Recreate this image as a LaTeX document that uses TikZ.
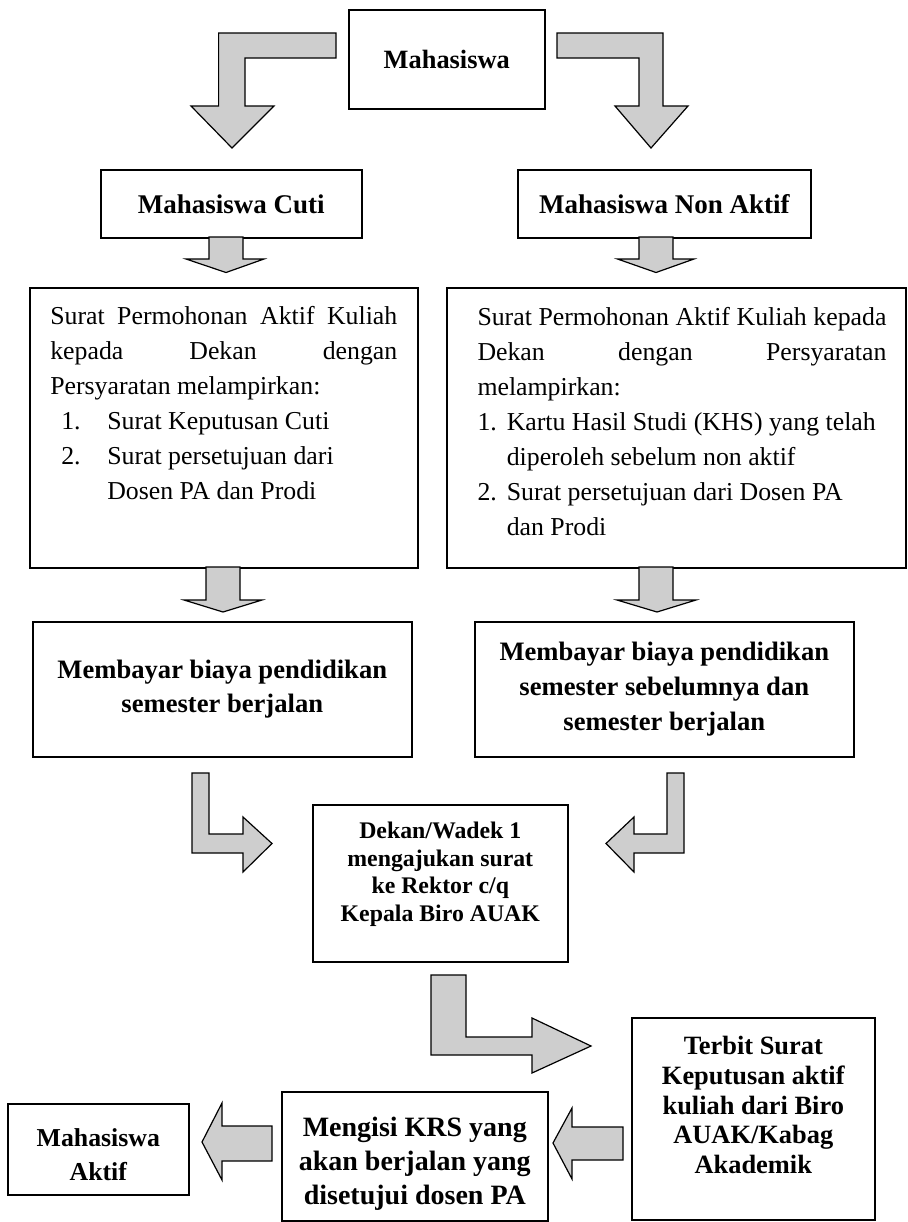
\documentclass[tikz,border=0pt]{standalone}
\usepackage{fontspec}
\setmainfont{Liberation Serif}

\definecolor{abu}{RGB}{206,206,206}
\def\pxscale{0.5pt}
\newcommand{\isi}{\normalfont\fontsize{12.9pt}{17.5pt}\selectfont}
\newcommand{\tebal}{\fontsize{13.2pt}{17pt}\selectfont\bfseries}

\begin{document}
\begin{tikzpicture}[x=\pxscale, y=-\pxscale,
    kotak/.style={draw, line width=0.8pt, anchor=north west, inner sep=0pt, align=center, font=\tebal},
    blok/.style={draw, fill=abu, line width=0.6pt, line join=miter}]
  \useasboundingbox (0,0) rectangle (907,1222);

  % kotak-kotak
  \node[kotak, minimum width=98pt, minimum height=49.5pt] (mhs) at (348,9) {Mahasiswa};
  \node[kotak, minimum width=130.5pt, minimum height=34pt, font=\fontsize{13.5pt}{17pt}\selectfont\bfseries] (cuti) at (100,169) {Mahasiswa Cuti};
  \node[kotak, minimum width=146.5pt, minimum height=34pt, font=\fontsize{13.5pt}{17pt}\selectfont\bfseries] (nonaktif) at (517,169) {Mahasiswa Non Aktif};

  \node[kotak, minimum width=194pt, minimum height=140pt] (suratcuti) at (29,287) {\parbox[c][140pt][t]{173.5pt}{\isi
    \rule{0pt}{18.5pt}\makebox[\linewidth][s]{Surat Permohonan Aktif Kuliah}\\
    \makebox[\linewidth][s]{kepada Dekan dengan}\\
    Persyaratan melampirkan:\\
    \hspace*{5.5pt}\makebox[23pt][l]{1.}Surat Keputusan Cuti\\
    \hspace*{5.5pt}\makebox[23pt][l]{2.}Surat persetujuan dari\\
    \hspace*{28.5pt}Dosen PA dan Prodi}};
  \node[kotak, minimum width=229.5pt, minimum height=140pt] (suratnon) at (446,287) {\hspace*{5.7pt}\parbox[c][140pt][t]{204.5pt}{\isi
    \rule{0pt}{19pt}\makebox[\linewidth][s]{Surat Permohonan Aktif Kuliah kepada}\\
    \makebox[\linewidth][s]{Dekan dengan Persyaratan}\\
    melampirkan:\\
    \mbox{\makebox[14.65pt][l]{1.}Kartu Hasil Studi (KHS) yang telah}\\
    \hspace*{14.65pt}diperoleh sebelum non aktif\\
    \mbox{\makebox[14.65pt][l]{2.}Surat persetujuan dari Dosen PA}\\
    \hspace*{14.65pt}dan Prodi}};

  \node[kotak, minimum width=189.5pt, minimum height=67.5pt, font=\fontsize{13.3pt}{17pt}\selectfont\bfseries] (bayarcuti) at (32,621) {Membayar biaya pendidikan\\ semester berjalan};
  \node[kotak, minimum width=189.5pt, minimum height=67.5pt, font=\fontsize{13.3pt}{17.5pt}\selectfont\bfseries] (bayarnon) at (474,621) {Membayar biaya pendidikan\\ semester sebelumnya dan\\ semester berjalan};

  \node[kotak, minimum width=127.5pt, minimum height=78.5pt] (dekan) at (312,804) {\parbox[c][78.5pt][t]{127.5pt}{\centering
    \fontsize{11.9pt}{13.75pt}\selectfont\bfseries
    \rule{0pt}{17pt}Dekan/Wadek 1\\ mengajukan surat\\ ke Rektor c/q\\ Kepala Biro AUAK}};
  \node[kotak, minimum width=121.5pt, minimum height=101pt] (terbit) at (631,1017) {\parbox[c][101pt][t]{121.5pt}{\centering
    \fontsize{13.2pt}{14.8pt}\selectfont\bfseries
    \rule{0pt}{18.5pt}Terbit Surat\\ Keputusan aktif\\ kuliah dari Biro\\ AUAK/Kabag\\ Akademik}};
  \node[kotak, minimum width=133pt, minimum height=64.5pt, font=\fontsize{14pt}{17pt}\selectfont\bfseries] (krs) at (281,1091) {\rule{0pt}{17.5pt}Mengisi KRS yang\\ akan berjalan yang\\ disetujui dosen PA};
  \node[kotak, minimum width=90.5pt, minimum height=45.5pt, font=\fontsize{12.9pt}{17pt}\selectfont\bfseries] (aktif) at (7,1103) {\rule{0pt}{14pt}Mahasiswa\\ Aktif};

  % panah blok
  \draw[blok] (336,33) -- (218.6,33) -- (218.6,106) -- (191,106) -- (232,148) -- (274,106) -- (245,106) -- (245,58) -- (336,58) -- cycle;
  \draw[blok] (557,33) -- (663,33) -- (663,106) -- (688,106) -- (651,148) -- (615,106) -- (639,106) -- (639,58) -- (557,58) -- cycle;
  \draw[blok] (209,237) -- (243,237) -- (243,259) -- (264,259) -- (226,272.5) -- (186,259) -- (209,259) -- cycle;
  \draw[blok] (639,237) -- (673,237) -- (673,259) -- (694,259) -- (656,272.5) -- (617.5,259) -- (639,259) -- cycle;
  \draw[blok] (206,567) -- (240,567) -- (240,600) -- (262,600) -- (223,612) -- (184,600) -- (206,600) -- cycle;
  \draw[blok] (639,567) -- (673,567) -- (673,600) -- (696,600) -- (657,612) -- (617,600) -- (639,600) -- cycle;
  \draw[blok] (192,773) -- (209,773) -- (209,834) -- (243,834) -- (243,817) -- (272,843.5) -- (243,872) -- (243,853) -- (192,853) -- cycle;
  \draw[blok] (684,773) -- (667,773) -- (667,834) -- (634,834) -- (634,817) -- (606,843.5) -- (634,872) -- (634,853) -- (684,853) -- cycle;
  \draw[blok] (431,975) -- (466,975) -- (466,1037) -- (532,1037) -- (532,1018) -- (591,1046) -- (532,1073) -- (532,1055) -- (431,1055) -- cycle;
  \draw[blok] (623,1127) -- (572,1127) -- (572,1108) -- (553,1143) -- (572,1179) -- (572,1160) -- (623,1160) -- cycle;
  \draw[blok] (272,1126) -- (222,1126) -- (222,1103) -- (202,1142) -- (222,1180) -- (222,1161) -- (272,1161) -- cycle;
\end{tikzpicture}
\end{document}
